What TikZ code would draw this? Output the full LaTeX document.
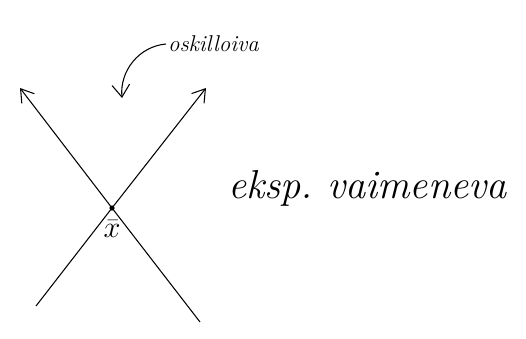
\documentclass[tikz,border=0pt]{standalone}
\usepackage{tikz}
\usetikzlibrary{arrows.meta, positioning}

\begin{document}
\begin{tikzpicture}[
  x=0.02cm, y=-0.02cm,
  axis/.style={-{Straight Barb[length=7pt, width=9pt]}, line width=0.6pt},
  curlarr/.style={-{Straight Barb[length=7pt, width=10pt]}, line width=0.6pt},
  lbl/.style={font=\fontsize{13}{15}\selectfont\itshape, inner sep=1pt},
  big/.style={font=\fontsize{23}{26}\selectfont\itshape, inner sep=1pt}
]

%% Canvas (pixel coordinates, y downwards)
\useasboundingbox (0,0) rectangle (526,338);

%% Fixed point and line ends
\coordinate (xbar) at (112,208);
\coordinate (ul)   at (20,88);
\coordinate (ur)   at (206,88);
\coordinate (ll)   at (36,306);
\coordinate (lr)   at (200,322);

%% Lines through the fixed point
\draw[axis] (lr) -- (xbar) -- (ul);
\draw[axis] (ll) -- (xbar) -- (ur);
\fill (xbar) circle (2.6);
\node[font=\fontsize{16}{18}\selectfont, anchor=north, inner sep=1pt]
  (xlab) at (112,218) {$\bar{x}$};

%% Labels
\node[lbl, anchor=west] (osk) at (166,44) {oskilloiva};
\node[big, anchor=west] (eks) at (226,188) {eksp.\ vaimeneva};

%% Curved arrow
\coordinate (tip) at (122,98);
\draw[curlarr] (osk.west) to[out=185, in=95] (tip);

\end{tikzpicture}
\end{document}
